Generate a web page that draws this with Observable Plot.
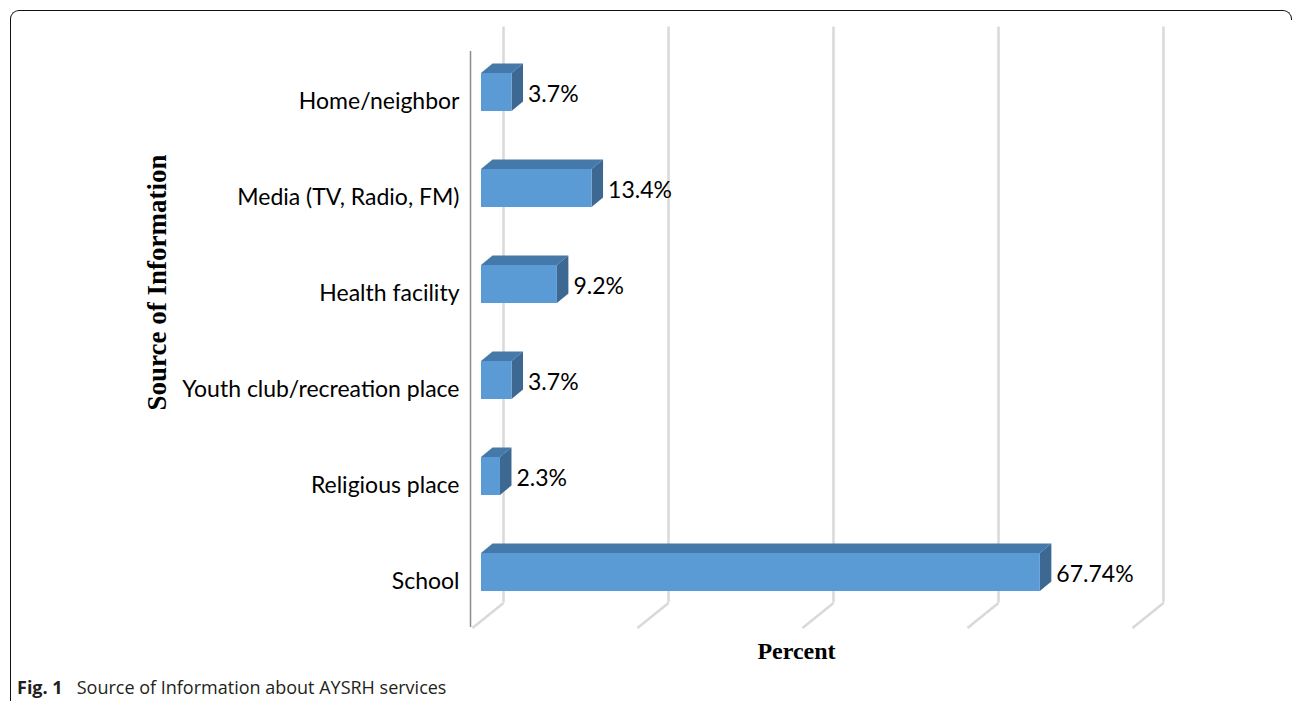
<!DOCTYPE html>
<html><head><meta charset="utf-8">
<script src="https://cdn.jsdelivr.net/npm/d3@7"></script>
<script src="https://cdn.jsdelivr.net/npm/@observablehq/plot@0.6"></script>
<style>
body{margin:0;background:#fff;width:1295px;height:701px;position:relative;overflow:hidden}
#chart{position:absolute;left:0;top:0}
#frame{position:absolute;left:10px;top:10px;width:1272px;height:700px;border-top:1.3px solid #111;border-left:1.3px solid #111;border-top-left-radius:9px}
#corner{position:absolute;left:1282px;top:10px;width:9px;height:9px;border-top:1.3px solid #111;border-right:1.3px solid #111;border-top-right-radius:9px}
#caption{position:absolute;left:17px;top:675px;font-family:"Open Sans";font-size:18px;color:#231f20;white-space:pre}
</style></head><body>
<div id="chart"></div>
<div id="frame"></div><div id="corner"></div>
<div id="caption"><b>Fig. 1</b>   Source of Information about AYSRH services</div>
<script>
const categories = ["Home/neighbor", "Media (TV, Radio, FM)", "Health facility", "Youth club/recreation place", "Religious place", "School"];
const percents = [3.7, 13.4, 9.2, 3.7, 2.3, 67.74];
const valueLabels = ["3.7%", "13.4%", "9.2%", "3.7%", "2.3%", "67.74%"];
const xTicks = [0, 20, 40, 60, 80];

const W = 1295, H = 670, mL = 481, mR = 154, mT = 44, mB = 50;
const kx = (W - mL - mR) / 80;   // px per percent
const ky = (H - mT - mB) / 6;    // px per category
const half = 19 / ky, bdx = 11.5 / kx, bdy = 9.5 / ky;

const rows = categories.map((c, i) => ({cat: c, i, v: percents[i], label: valueLabels[i]}));
const topPts = rows.flatMap(d => [
  {cat: d.cat, y: d.i - half, x1: 0, x2: d.v},
  {cat: d.cat, y: d.i - half - bdy, x1: bdx, x2: d.v + bdx}
]);
const sidePts = rows.flatMap(d => [
  {cat: d.cat, x: d.v, y1: d.i + half, y2: d.i - half},
  {cat: d.cat, x: d.v + bdx, y1: d.i + half - bdy, y2: d.i - half - bdy}
]);

const plot = Plot.plot({
  width: W, height: H,
  marginLeft: mL, marginRight: mR, marginTop: mT, marginBottom: mB,
  x: {domain: [0, 80], axis: null},
  y: {domain: [-0.5, 5.5], reverse: true, axis: null},
  style: {background: "white", overflow: "visible"},
  marks: [
    Plot.ruleX(xTicks, {x: d => d, y1: -0.5, y2: 5.5, dx: 22, dy: -17.5, stroke: "#d9d9d9", strokeWidth: 2.5}),
    Plot.link(xTicks, {x1: d => d, y1: 5.5, x2: d => d - 31 / kx, y2: 5.5 + 25 / ky, dx: 22, dy: -17.5, stroke: "#d9d9d9", strokeWidth: 2.5}),
    Plot.ruleX([0], {y1: -0.5, y2: 5.5, dx: -11, dy: 7, stroke: "#8c8c8c", strokeWidth: 1.5}),
    Plot.area(topPts, {x1: "x1", x2: "x2", y1: "y", y2: "y", z: "cat", fill: "#4579aa"}),
    Plot.area(sidePts, {x1: "x", x2: "x", y1: "y1", y2: "y2", z: "cat", fill: "#3d6892"}),
    Plot.rect(rows, {x1: 0, x2: "v", y1: d => d.i - half, y2: d => d.i + half, fill: "#5b9bd5"}),
    Plot.text(rows, {x: "v", y: "i", text: "label", textAnchor: "start", dx: 16, dy: 2, fontSize: 23, fontFamily: "Lato", fill: "#000"}),
    Plot.text(rows, {x: 0, y: "i", text: "cat", textAnchor: "end", dx: -22, dy: 9, fontSize: 23, fontFamily: "Lato", fill: "#000"}),
    Plot.text(["Source of Information"], {frameAnchor: "left", text: d => d, textAnchor: "middle", lineAnchor: "middle", rotate: -90, dx: -324, dy: -50, fontSize: 27, fontWeight: "bold", fontFamily: "Liberation Serif", fill: "#000"}),
    Plot.text(["Percent"], {frameAnchor: "bottom", text: d => d, textAnchor: "middle", lineAnchor: "middle", dx: -15, dy: 31, fontSize: 24, fontWeight: "bold", fontFamily: "Liberation Serif", fill: "#000"})
  ]
});
document.getElementById("chart").appendChild(plot);
</script>
</body></html>
